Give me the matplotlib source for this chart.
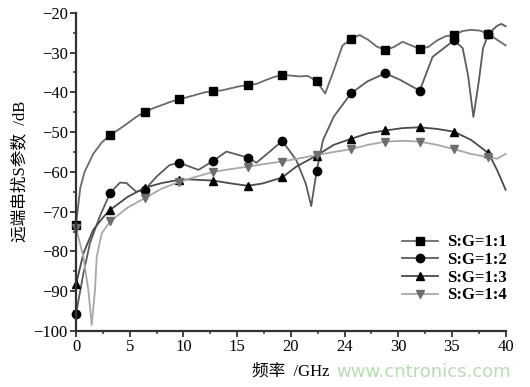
import matplotlib
matplotlib.use("Agg")
import matplotlib.pyplot as plt
from matplotlib.ticker import MultipleLocator, FixedLocator
import numpy as np

plt.rcParams['font.family'] = ['Liberation Serif', 'Noto Sans CJK SC']
plt.rcParams['axes.unicode_minus'] = True

# S:G=1:1 (squares)
f_11 = [0, 0.4, 0.8, 1.6, 2.4, 3.2, 4.0, 4.8, 5.6, 6.4, 7.2, 8.0, 8.8, 9.6, 10.4, 11.2, 12.0, 12.8,
        13.6, 14.4, 15.2, 16.0, 16.8, 17.6, 18.4, 19.2, 20.0, 20.8, 21.6, 22.4, 23.2, 24.0, 24.8,
        25.6, 26.4, 27.2, 28.0, 28.8, 29.6, 30.4, 31.2, 32.0, 32.8, 33.6, 34.4, 35.2, 36.0, 36.8,
        37.6, 38.4, 39.2, 40.0]
v_11 = [-73.3, -64.0, -60.0, -55.5, -52.6, -50.7, -49.3, -47.8, -46.2, -44.9, -44.0, -43.2, -42.4,
        -41.8, -41.2, -40.6, -40.0, -39.7, -39.5, -39.0, -38.5, -38.2, -37.9, -37.0, -36.2, -35.6,
        -35.8, -36.0, -35.9, -37.2, -40.3, -34.5, -28.3, -26.6, -25.6, -26.8, -28.5, -29.4, -28.6,
        -27.3, -28.2, -29.1, -28.6, -27.0, -25.9, -25.6, -24.6, -24.3, -24.5, -25.3, -26.8, -28.2]

# S:G=1:2 (circles)
f_12 = [0, 0.7, 1.3, 2.2, 3.2, 4.1, 4.7, 5.6, 6.4, 7.5, 8.7, 9.6, 10.6, 11.4, 12.8, 14.0, 16.0,
        16.8, 18.0, 19.2, 20.5, 21.4, 21.9, 22.4, 23.0, 24.0, 25.6, 27.1, 28.8, 30.2, 32.0, 33.2,
        35.2, 36.0, 36.5, 37.0, 37.5, 37.9, 38.4, 39.2, 39.6, 40.0]
v_12 = [-95.7, -85.4, -77.9, -71.3, -65.2, -62.7, -62.8, -65.0, -64.5, -61.2, -58.3, -57.7, -58.7,
        -59.5, -57.2, -54.9, -56.4, -57.7, -55.0, -52.2, -57.0, -63.0, -68.6, -59.8, -52.0, -46.1,
        -40.3, -37.3, -35.2, -36.9, -39.6, -31.1, -26.9, -28.9, -35.7, -46.2, -37.3, -28.9, -25.3,
        -23.3, -22.8, -23.4]

# S:G=1:3 (triangles)
f_13 = [0, 0.7, 1.6, 2.5, 3.2, 4.8, 6.4, 8.0, 9.6, 10.6, 12.8, 14.4, 16.0, 17.4, 19.2, 20.5, 22.4,
        24.0, 25.6, 27.2, 28.8, 30.4, 32.0, 33.6, 35.2, 36.8, 38.4, 39.2, 40.0]
v_13 = [-88.3, -80.4, -74.6, -71.5, -69.5, -66.3, -64.0, -62.8, -62.0, -61.9, -62.2, -62.9, -63.5,
        -62.9, -61.4, -58.7, -55.9, -53.2, -51.7, -50.3, -49.6, -49.0, -48.8, -49.2, -49.9, -52.0,
        -55.3, -59.5, -64.5]

# S:G=1:4 (inverted triangles)
f_14 = [0, 0.68, 1.15, 1.46, 1.77, 1.93, 2.4, 3.2, 4.8, 6.4, 8.0, 9.6, 11.2, 12.8, 14.4, 16.0,
        17.6, 19.2, 20.8, 22.4, 24.0, 25.6, 27.2, 28.8, 30.4, 32.0, 33.6, 35.2, 36.8, 38.4, 39.2, 40.0]
v_14 = [-74.0, -81.3, -89.7, -98.5, -89.7, -81.3, -75.4, -72.4, -69.0, -66.6, -64.2, -62.5, -61.2,
        -60.0, -59.3, -58.7, -58.0, -57.4, -56.6, -55.8, -55.0, -54.3, -53.2, -52.4, -52.2, -52.4,
        -53.2, -54.3, -55.5, -56.3, -56.7, -55.5]

labels = ["S:G=1:1", "S:G=1:2", "S:G=1:3", "S:G=1:4"]
x_ticks = [0, 5, 10, 15, 20, 25, 30, 35, 40]
x_ticklabels = ["0", "5", "10", "15", "20", "24", "30", "35", "40"]


def marker_idx(f):
    f = np.asarray(f)
    return list(np.where(np.isclose(np.mod(f + 1e-9, 3.2), 0, atol=1e-3))[0])


fig = plt.figure(figsize=(5.3, 3.87), dpi=100)
ax = fig.add_axes([0.1434, 0.1447, 0.8106, 0.8224])

styles = [
    (f_11, v_11, "s", "#6a6a6a", "black"),
    (f_12, v_12, "o", "#5c5c5c", "black"),
    (f_13, v_13, "^", "#4a4a4a", "black"),
    (f_14, v_14, "v", "#a8a8a8", "#6e6e6e"),
]
for (f, v, m, lc, mc), lab in zip(styles, labels):
    ax.plot(f, v, color=lc, lw=1.3, marker=m, markersize=6, markerfacecolor=mc,
            markeredgecolor=mc, markevery=marker_idx(f), label=lab, clip_on=False)

ax.set_xlim(0, 40)
ax.set_ylim(-100, -20)
ax.xaxis.set_major_locator(FixedLocator(x_ticks))
ax.set_xticklabels(x_ticklabels)
ax.xaxis.set_minor_locator(MultipleLocator(2.5))
ax.yaxis.set_major_locator(MultipleLocator(10))
ax.yaxis.set_minor_locator(MultipleLocator(5))

for s in ["top", "right"]:
    ax.spines[s].set_visible(False)
for s in ["left", "bottom"]:
    ax.spines[s].set_color("#333333")
    ax.spines[s].set_linewidth(1.6)
ax.tick_params(which="major", direction="out", length=4, width=1.3, color="#333333",
               labelsize=12, pad=2)
ax.tick_params(which="minor", direction="out", length=2.5, width=1.1, color="#333333")

ax.set_xlabel("频率  /GHz", fontsize=12, labelpad=6)
ax.set_ylabel("远端串扰S参数  /dB", fontsize=12, labelpad=4)

leg = ax.legend(loc="lower right", bbox_to_anchor=(1.025, 0.055), frameon=False,
                prop={"weight": "bold", "size": 12}, handlelength=2.2, labelspacing=0.1,
                borderaxespad=0.2, handletextpad=0.5)

fig.text(0.963, 0.04, "www.cntronics.com", color="#b8ddb0", fontsize=13,
         family="DejaVu Sans", ha="right", va="center")

fig.savefig("out.png", dpi=100)
